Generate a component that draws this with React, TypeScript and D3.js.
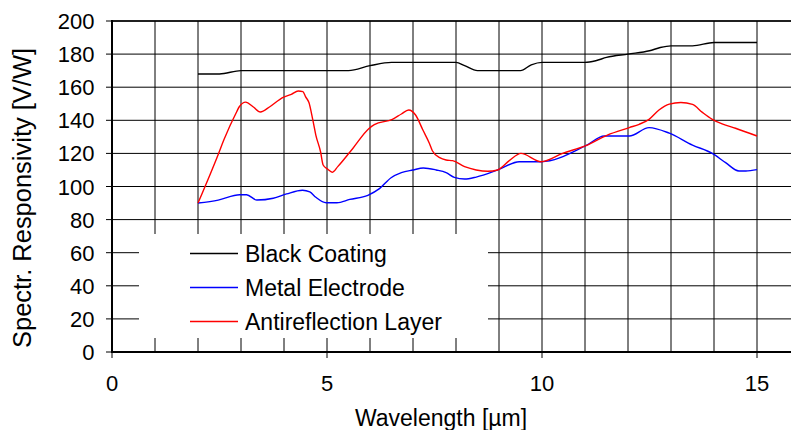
import React from "react";
import * as d3 from "d3";

const blackCoating: [number, number][] = [
  [2, 168], [2.5, 168], [3, 170], [5.5, 170], [6, 173], [6.5, 175], [8, 175], [8.2, 173],
  [8.5, 170], [9.5, 170], [9.75, 173.5], [10, 175], [11, 175], [11.25, 176], [11.5, 178],
  [12, 180], [12.5, 182], [12.75, 184], [13, 185], [13.5, 185], [14, 187], [15, 187],
];

const metalElectrode: [number, number][] = [
  [2, 90], [2.47, 91.8], [2.97, 95], [3.13, 95], [3.37, 91.8], [3.75, 92.9], [4.06, 95.5],
  [4.43, 97.7], [4.6, 96.7], [4.74, 93.5], [4.98, 90.2], [5.23, 90.2], [5.53, 92.2],
  [5.95, 94.7], [6.22, 98.7], [6.49, 105.3], [6.73, 108.4], [7.0, 110], [7.24, 111.2],
  [7.54, 110], [7.77, 108.4], [7.96, 105.5], [8.2, 104.5], [8.47, 105.7], [8.97, 110],
  [9.47, 115], [9.98, 115], [11.02, 124.7], [11.45, 130.5], [12.03, 130.5], [12.49, 135.6],
  [12.96, 132.2], [13.5, 125], [13.96, 120], [14.27, 114.4], [14.58, 109.4], [14.74, 109.4],
  [15, 110.2],
];

const antireflection: [number, number][] = [
  [2, 90], [2.47, 119.4], [2.6, 128.1], [2.9, 145.2], [2.96, 148.2], [3.11, 151], [3.28, 148.2],
  [3.45, 145], [3.67, 148.2], [3.98, 153.9], [4.17, 155.7], [4.33, 157.7], [4.44, 157.3],
  [4.5, 154.3], [4.58, 150.7], [4.67, 140.2], [4.74, 131.1], [4.85, 121], [4.91, 113],
  [5.02, 110.4], [5.12, 108.6], [5.25, 112], [5.6, 123], [5.97, 134.9], [6.1, 137.4],
  [6.52, 140.6], [6.73, 143.8], [6.9, 146.2], [7.06, 143.2], [7.23, 134.1], [7.38, 126.1],
  [7.45, 121.6], [7.62, 117.4], [7.77, 116], [7.92, 115.6], [8.2, 112], [8.47, 110],
  [8.74, 109.2], [8.97, 110], [9.24, 115.6], [9.51, 120], [9.98, 115], [10.48, 120],
  [11.02, 124.7], [11.52, 131.1], [12.03, 135.6], [12.26, 137.6], [12.49, 140.6],
  [12.72, 146.2], [12.96, 149.8], [13.23, 150.8], [13.5, 149.6], [13.73, 144.8],
  [13.96, 140.6], [14.19, 137.8], [14.5, 135.2], [15, 130.5],
];

const xTicks = [0, 5, 10, 15];
const xGrid = d3.range(0, 16, 1);
const yTicks = d3.range(0, 201, 20);

const series = [
  { name: "Black Coating", data: blackCoating, color: "#000000" },
  { name: "Metal Electrode", data: metalElectrode, color: "#0000ff" },
  { name: "Antireflection Layer", data: antireflection, color: "#ff0000" },
];

const W = 791;
const H = 430;
const FONT = "'Liberation Sans', Arial, sans-serif";

export default function App() {
  const x = d3.scaleLinear().domain([0, 15]).range([112, 757]);
  const y = d3.scaleLinear().domain([0, 200]).range([352, 21]);
  const plotRight = W;
  const line = d3
    .line<[number, number]>()
    .x((d) => x(d[0]))
    .y((d) => y(d[1]))
    .curve(d3.curveMonotoneX);

  const legend = { x0: 139, x1: 488, y0: 234, y1: 338 };
  const legendRows = [253.5, 287.5, 321.5];

  return (
    <svg width={W} height={H} style={{ position: "absolute", left: 0, top: 0, background: "#fff" }}>
      <rect x={0} y={0} width={W} height={H} fill="#fff" />
      {/* grid */}
      {xGrid.map((v) => (
        <line key={"gx" + v} x1={x(v)} x2={x(v)} y1={y(200)} y2={y(0)} stroke="#000" strokeWidth={1} />
      ))}
      {yTicks.map((v) => (
        <line key={"gy" + v} x1={x(0)} x2={plotRight} y1={y(v)} y2={y(v)} stroke="#000" strokeWidth={1} />
      ))}
      {/* legend background */}
      <rect x={legend.x0} y={legend.y0} width={legend.x1 - legend.x0} height={legend.y1 - legend.y0} fill="#fff" />
      {/* axes */}
      <line x1={x(0)} x2={x(0)} y1={y(200) - 1} y2={y(0) + 1} stroke="#000" strokeWidth={2} />
      <line x1={x(0) - 1} x2={plotRight} y1={y(0)} y2={y(0)} stroke="#000" strokeWidth={2} />
      <line x1={x(0)} x2={plotRight} y1={y(200)} y2={y(200)} stroke="#000" strokeWidth={1.6} />
      {yTicks.map((v) => (
        <line key={"ty" + v} x1={x(0) - 6} x2={x(0)} y1={y(v)} y2={y(v)} stroke="#000" strokeWidth={1} />
      ))}
      {xTicks.map((v) => (
        <line key={"tx" + v} x1={x(v)} x2={x(v)} y1={y(0)} y2={y(0) + 6} stroke="#000" strokeWidth={1} />
      ))}
      {/* tick labels */}
      {yTicks.map((v) => (
        <text key={"ly" + v} x={94.5} y={y(v) + 8} textAnchor="end" fontFamily={FONT} fontSize={22} fill="#000">
          {v}
        </text>
      ))}
      {xTicks.map((v) => (
        <text key={"lx" + v} x={x(v)} y={391} textAnchor="middle" fontFamily={FONT} fontSize={22} fill="#000">
          {v}
        </text>
      ))}
      {/* axis titles */}
      <text x={441} y={426} textAnchor="middle" fontFamily={FONT} fontSize={23} fill="#000">
        Wavelength [µm]
      </text>
      <text
        transform={`translate(31,198) rotate(-90)`}
        textAnchor="middle"
        fontFamily={FONT}
        fontSize={25}
        textLength={300}
        lengthAdjust="spacingAndGlyphs"
        fill="#000"
      >
        Spectr. Responsivity [V/W]
      </text>
      {/* series */}
      {series.map((s) => (
        <path key={s.name} d={line(s.data) || ""} fill="none" stroke={s.color} strokeWidth={1.4} />
      ))}
      {/* legend */}
      {series.map((s, i) => (
        <g key={"lg" + s.name}>
          <line x1={190} x2={238} y1={legendRows[i]} y2={legendRows[i]} stroke={s.color} strokeWidth={1.4} />
          <text x={245} y={legendRows[i] + 8} fontFamily={FONT} fontSize={23} fill="#000">
            {s.name}
          </text>
        </g>
      ))}
    </svg>
  );
}
